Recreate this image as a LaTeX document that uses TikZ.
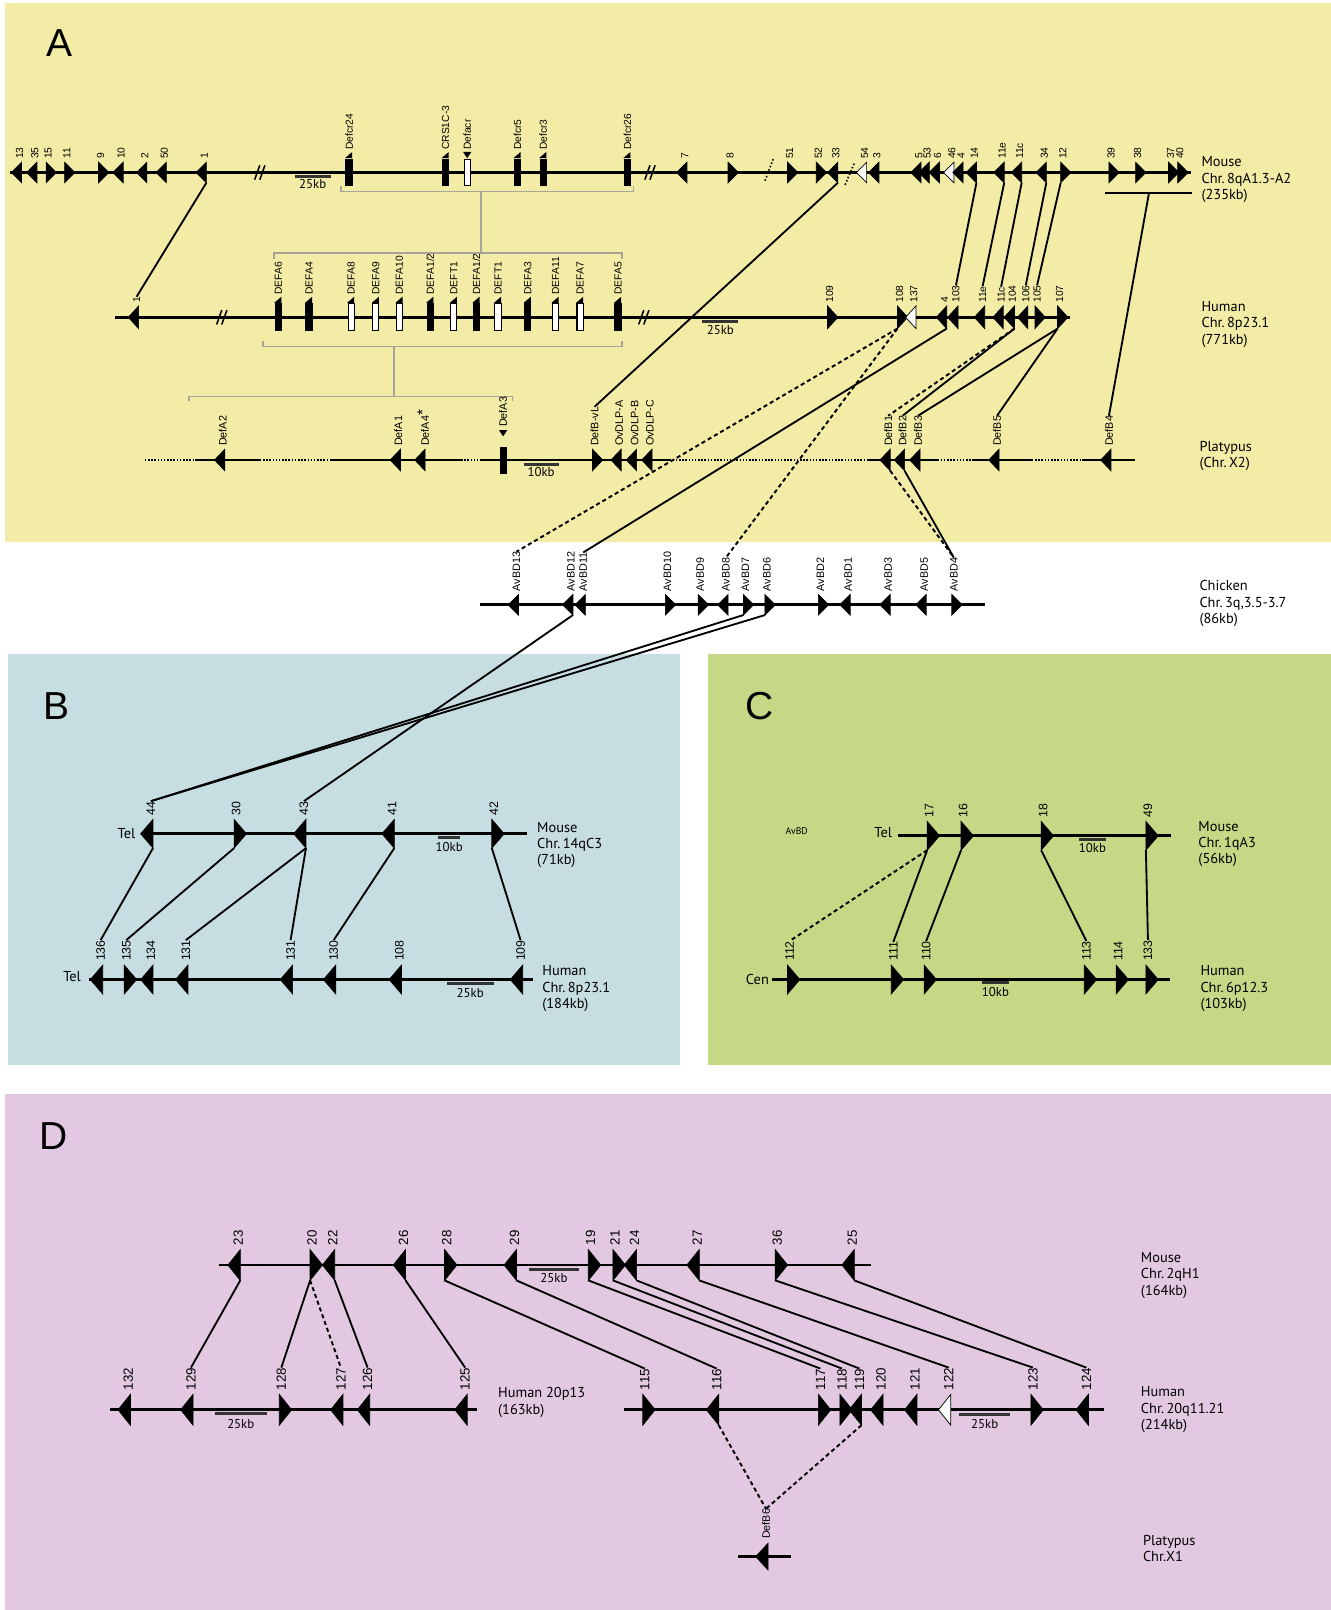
\documentclass[tikz,border=0pt]{standalone}
\usepackage{fontspec}
\setmainfont{PT Sans}
\newfontfamily\arialf{Liberation Sans}
\definecolor{panA}{RGB}{243,236,166}
\definecolor{panB}{RGB}{198,221,225}
\definecolor{panC}{RGB}{197,216,133}
\definecolor{panD}{RGB}{226,201,225}
\definecolor{brk}{RGB}{165,165,155}
\def\ghh{10}\def\gww{10}\def\ggap{3}\def\glfs{9}
\newcommand\gene[6][black]{%
  \filldraw[fill=#1,draw=black,line width=0.7pt] ({#3},{#4-\ghh}) -- ({#3},{#4+\ghh}) -- ({#3+(#5)*\gww},{#4}) -- cycle;
  \coordinate (#2t) at ({#3},{#4-\ghh});
  \coordinate (#2b) at ({#3},{#4+\ghh});
  \node[glab,anchor=west] (#2l) at ({#3+(#5)*2},{#4-\ghh-\ggap}) {#6};
}
\newcommand\gbar[7]{%
  \filldraw[fill=#1,draw=black,line width=1.1pt] ({#3-3},{#4-#5}) rectangle ({#3+3},{#4+#5});
  \coordinate (#2t) at ({#3},{#4-#5});
  \coordinate (#2b) at ({#3},{#4+#5});
  \ifx l#7
    \fill ({#3+3},{#4-#5-1}) -- ({#3+3},{#4-#5-7}) -- ({#3-4},{#4-#5-1}) -- cycle;
  \else
    \fill ({#3-4},{#4-#5-7}) -- ({#3+4},{#4-#5-7}) -- ({#3},{#4-#5-1}) -- cycle;
  \fi
  \node[glab,anchor=west] (#2l) at ({#3},{#4-#5-9}) {#6};
}
\newcommand\sbar[6]{%
  \draw[sbarline] ({#2},{#4}) -- ({#3},{#4});
  \node[kb] (#1) at ({(#2+#3)/2},{#5}) {#6};
}
\newcommand\brkmark[2]{%
  \draw[line width=1.5pt] ({#1-6},{#2+7}) -- ({#1-1},{#2-7});
  \draw[line width=1.5pt] ({#1-1},{#2+7}) -- ({#1+4},{#2-7});
}
\begin{document}
\begin{tikzpicture}[x=1pt,y=-1pt,
  chrom/.style={line width=2.6pt,black},
  chromdot/.style={line width=2pt,dash pattern=on 1.5pt off 1.6pt},
  conn/.style={line width=1.8pt},
  dconn/.style={line width=1.9pt,dash pattern=on 4pt off 3pt},
  brkline/.style={draw=brk,line width=1.6pt},
  sbarline/.style={line width=2.8pt,draw=black!80},
  glab/.style={font=\arialf\fontsize{\glfs}{\glfs}\selectfont,inner sep=0pt,rotate=90},
  splab/.style={font=\fontsize{14}{16}\selectfont,align=left,inner sep=0pt},
  kb/.style={font=\fontsize{12.5}{12.5}\selectfont,inner sep=0pt},
  plet/.style={font=\arialf\fontsize{38}{38}\selectfont,inner sep=0pt}]
\useasboundingbox (0,0) rectangle (1296,1568);
\fill[white] (0,0) rectangle (1296,1568);
\fill[panA] (5,3) rectangle (1296,528);
\fill[panB] (8,637) rectangle (662,1037);
\fill[panC] (690,637) rectangle (1296,1037);
\fill[panD] (5,1065) rectangle (1296,1568);
\node[plet] (LA) at (58,42) {A};
\node[plet] (LB) at (55,688) {B};
\node[plet] (LC) at (740,688) {C};
\node[plet] (LD) at (52,1106) {D};

% brackets
\draw[brkline] (332,181) -- (332,186.5) -- (617,186.5) -- (617,181);
\draw[brkline] (468.5,186.5) -- (468.5,246.5);
\draw[brkline] (267,252) -- (267,246.5) -- (606,246.5) -- (606,252);
\draw[brkline] (256,332.5) -- (256,337.5) -- (606,337.5) -- (606,332.5);
\draw[brkline] (384,337.5) -- (384,386);
\draw[brkline] (184,391) -- (184,386) -- (499,386) -- (499,391);

% ===== Panel A mouse
\draw[chrom] (10,168) -- (1160,168);
\brkmark{254}{168}\brkmark{634}{168}
\draw[line width=1.6pt,dash pattern=on 1.5pt off 2pt] (745,176) -- (753,155);
\draw[line width=1.6pt,dash pattern=on 1.5pt off 2pt] (823,180) -- (832,159);
\sbar{kbmA}{287}{322}{172}{179}{25kb}
\def\ghh{10}\def\gww{10}\def\ggap{3}\def\glfs{10}
\gene{mA13}{21}{168}{-1}{13}
\gene{mA35}{36}{168}{-1}{35}
\gene{mA15}{45}{168}{1}{15}
\gene{mA11}{63}{168}{1}{11}
\gene{mA9}{96}{168}{1}{9}
\gene{mA10}{120}{168}{-1}{10}
\gene{mA2}{143}{168}{-1}{2}
\gene{mA50}{162}{168}{-1}{50}
\gene{mA1}{201}{168}{-1}{1}
\gene{mA7}{669}{168}{-1}{7}
\gene{mA8}{709}{168}{1}{8}
\gene{mA51}{767}{168}{1}{51}
\gene{mA52}{795}{168}{1}{52}
\gene{mA33}{816}{168}{-1}{33}
\gene[white]{mA54}{844}{168}{-1}{54}
\gene{mA3}{856}{168}{-1}{3}
\gene{mA5}{897}{168}{-1}{5}
\gene{mA53}{905}{168}{-1}{53}
\gene{mA6}{915}{168}{-1}{6}
\gene[white]{mA46}{929}{168}{-1}{46}
\gene{mA4}{938}{168}{-1}{4}
\gene{mA14}{951}{168}{-1}{14}
\gene{mA11e}{978}{168}{-1}{11e}
\gene{mA11c}{995}{168}{-1}{11c}
\gene{mA34}{1019}{168}{-1}{34}
\gene{mA12}{1033}{168}{1}{12}
\gene{mA39}{1080}{168}{1}{39}
\gene{mA38}{1106}{168}{1}{38}
\gene{mA37}{1138}{168}{1}{37}
\gene{mA40}{1147}{168}{1}{40}
\gbar{black}{mAd24}{340}{168}{13}{Defcr24}{l}
\gbar{black}{mAcrs}{434}{168}{13}{CRS1C-3}{l}
\gbar{white}{mAacr}{455}{168}{13}{Defacr}{d}
\gbar{black}{mAd5}{504}{168}{13}{Defcr5}{l}
\gbar{black}{mAd3}{529}{168}{13}{Defcr3}{l}
\gbar{black}{mAd26}{611}{168}{13}{Defcr26}{l}
\draw[line width=2.4pt] (1076,188) -- (1161,188);
\coordinate (mAbr) at (1119,188);
\node[splab,anchor=west] (mAname) at (1170,175) {Mouse\\Chr.\,8qA1.3-A2\\(235kb)};

% ===== Panel A human
\draw[chrom] (112,309) -- (1042,309);
\brkmark{217}{309}\brkmark{628}{309}
\sbar{kbhA}{684}{719}{313}{321}{25kb}
\def\ghh{11}
\gene{hA1}{135}{309}{-1}{1}
\gene{hA109}{806}{309}{1}{109}
\gene{hA108}{874}{309}{1}{108}
\gene[white]{hA137}{892}{309}{-1}{137}
\gene{hA4}{922}{309}{-1}{4}
\gene{hA103}{933}{309}{-1}{103}
\gene{hA11e}{959}{309}{-1}{11e}
\gene{hA11c}{977}{309}{-1}{11c}
\gene{hA104}{988}{309}{-1}{104}
\gene{hA106}{1001}{309}{-1}{106}
\gene{hA105}{1008}{309}{1}{105}
\gene{hA107}{1030}{309}{1}{107}
\gbar{black}{hAa6}{271}{309}{13}{DEFA6}{l}
\gbar{black}{hAa4}{301}{309}{13}{DEFA4}{l}
\gbar{white}{hAa8}{342}{309}{13}{DEFA8}{l}
\gbar{white}{hAa9}{366}{309}{13}{DEFA9}{l}
\gbar{white}{hAa10}{389}{309}{13}{DEFA10}{l}
\gbar{black}{hAa12x}{419}{309}{13}{DEFA1/2}{l}
\gbar{white}{hAt1x}{442}{309}{13}{DEFT1}{l}
\gbar{black}{hAa12y}{464}{309}{13}{DEFA1/2}{l}
\gbar{white}{hAt1y}{485}{309}{13}{DEFT1}{l}
\gbar{black}{hAa3}{514}{309}{13}{DEFA3}{l}
\gbar{white}{hAa11}{541}{309}{13}{DEFA11}{l}
\gbar{white}{hAa7}{565}{309}{13}{DEFA7}{l}
\gbar{black}{hAa5}{602}{309}{13}{DEFA5}{l}
\node[splab,anchor=west] (hAname) at (1170,316) {Human\\Chr.\,8p23.1\\(771kb)};

% ===== Panel A platypus
\draw[chromdot] (141,448) -- (190,448);
\draw[chrom] (190,448) -- (253,448);
\draw[chromdot] (253,448) -- (322,448);
\draw[chrom] (322,448) -- (449,448);
\draw[chromdot] (449,448) -- (467,448);
\draw[chrom] (467,448) -- (652,448);
\draw[chromdot] (652,448) -- (845,448);
\draw[chrom] (845,448) -- (913,448);
\draw[chromdot] (913,448) -- (948,448);
\draw[chrom] (948,448) -- (1005,448);
\draw[chromdot] (1005,448) -- (1054,448);
\draw[chrom] (1054,448) -- (1105,448);
\sbar{kbpA}{510}{544}{452}{460}{10kb}
\def\ghh{10.5}\def\glfs{10.5}
\gene{pA2}{219}{448}{-1}{DefA2}
\gene{pA1}{390}{448}{-1}{DefA1}
\gene{pA4}{414}{448}{-1}{DefA4\raisebox{1pt}{\fontsize{15}{15}\selectfont *}}
\filldraw[line width=0.8pt] (487,436) rectangle (493,461);
\coordinate (pA3t) at (490,436);
\fill (486,419) -- (494,419) -- (490,425) -- cycle;
\node[glab,anchor=west] (pA3l) at (490,416) {DefA3};
\gene{pBvL}{577}{448}{1}{DefB-vL}
\gene{pOA}{605}{448}{-1}{OvDLP-A}
\gene{pOB}{620}{448}{-1}{OvDLP-B}
\gene{pOC}{635}{448}{-1}{OvDLP-C}
\gene{pB1}{867}{448}{-1}{DefB1}
\gene{pB2}{881}{448}{-1}{DefB2}
\gene{pB3}{896}{448}{-1}{DefB3}
\gene{pB5}{973}{448}{-1}{DefB5}
\gene{pB4}{1082}{448}{-1}{DefB4}
\node[splab,anchor=west] (pAname) at (1168,444) {Platypus\\(Chr.\,X2)};

% ===== chicken
\draw[chrom] (467,589) -- (959,589);
\def\ghh{10}
\gene{cA13}{505}{589}{-1}{AvBD13}
\gene{cA12}{558}{589}{-1}{AvBD12}
\gene{cA11}{570}{589}{-1}{AvBD11}
\gene{cA10}{648}{589}{1}{AvBD10}
\gene{cA9}{680}{589}{1}{AvBD9}
\gene{cA8}{709}{589}{-1}{AvBD8}
\gene{cA7}{724}{589}{1}{AvBD7}
\gene{cA6}{745}{589}{1}{AvBD6}
\gene{cA2}{797}{589}{1}{AvBD2}
\gene{cA1}{828}{589}{-1}{AvBD1}
\gene{cA3}{867}{589}{-1}{AvBD3}
\gene{cA5}{902}{589}{-1}{AvBD5}
\gene{cA4}{927}{589}{1}{AvBD4}
\node[splab,anchor=west] (cAname) at (1168,588) {Chicken\\Chr.\,3q,3.5-3.7\\(86kb)};

% connectors panel A
\draw[conn] (mA1b) -- (hA1l.east);
\draw[conn] (mA33b) -- (pBvLl.east);
\draw[conn] (mA14b) -- (hA103l.east);
\draw[conn] (mA11eb) -- (hA11el.east);
\draw[conn] (mA11cb) -- (hA11cl.east);
\draw[conn] (mA34b) -- (hA106l.east);
\draw[conn] (mA12b) -- (hA105l.east);
\draw[conn] (mAbr) -- (pB4l.east);
\draw[dconn] (hA108b) -- (cA13l.east);
\draw[dconn] (hA108b) -- (cA8l.east);
\draw[conn] (hA4b) -- (cA11l.east);
\draw[dconn] (hA104b) -- (pB1l.east);
\draw[conn] (hA104b) -- (pB2l.east);
\draw[conn] (hA107b) -- (pB3l.east);
\draw[conn] (hA107b) -- (pB5l.east);
\draw[dconn] (pB1b) -- (cA4l.east);
\draw[conn] (pB2b) -- (cA4l.east);

% ===== Panel B
\draw[chrom] (139,812) -- (513,812);
\def\ghh{14}\def\gww{12}\def\glfs{12}\def\ggap{4}
\gene{bM44}{149}{812}{-1}{44}
\gene{bM30}{228}{812}{1}{30}
\gene{bM43}{298}{812}{-1}{43}
\gene{bM41}{384}{812}{-1}{41}
\gene{bM42}{479}{812}{1}{42}
\sbar{kbbM}{427}{448}{816}{825}{10kb}
\node[splab,anchor=east] (bTelM) at (132,812) {Tel};
\node[splab,anchor=west] (bMname) at (523,823) {Mouse\\Chr.\,14qC3\\(71kb)};
\draw[chrom] (87,954) -- (519,954);
\gene{bH136}{100}{954}{-1}{136}
\gene{bH135}{121}{954}{1}{135}
\gene{bH134}{149}{954}{-1}{134}
\gene{bH131x}{183}{954}{-1}{131}
\gene{bH131y}{285}{954}{-1}{131}
\gene{bH130}{327}{954}{-1}{130}
\gene{bH108}{391}{954}{-1}{108}
\gene{bH109}{509}{954}{-1}{109}
\sbar{kbbH}{435}{481}{958}{967}{25kb}
\node[splab,anchor=east] (bTelH) at (79,951) {Tel};
\node[splab,anchor=west] (bHname) at (528,963) {Human\\Chr.\,8p23.1\\(184kb)};
\draw[conn] (cA12b) -- (bM43l.east);
\draw[conn] (cA7b) -- (bM44l.east);
\draw[conn] (cA6b) -- (bM44l.east);
\draw[conn] (bM44b) -- (bH136l.east);
\draw[conn] (bM30b) -- (bH135l.east);
\draw[conn] (bM43b) -- (bH131xl.east);
\draw[conn] (bM43b) -- (bH131yl.east);
\draw[conn] (bM41b) -- (bH130l.east);
\draw[conn] (bM42b) -- (bH109l.east);

% ===== Panel C
\node[font=\fontsize{9.5}{9.5}\selectfont,inner sep=0pt] (cAvBD) at (776,809) {AvBD};
\draw[chrom] (875,814) -- (1140,814);
\gene{cM17}{903}{814}{1}{17}
\gene{cM16}{936}{814}{1}{16}
\gene{cM18}{1014}{814}{1}{18}
\gene{cM49}{1116}{814}{1}{49}
\sbar{kbcM}{1051}{1077}{818}{826}{10kb}
\node[splab,anchor=east] (cTel) at (869,811) {Tel};
\node[splab,anchor=west] (cMname) at (1167,822) {Mouse\\Chr.\,1qA3\\(56kb)};
\draw[chrom] (752,954) -- (1139,954);
\gene{cH112}{767}{954}{1}{112}
\gene{cH111}{868}{954}{1}{111}
\gene{cH110}{900}{954}{1}{110}
\gene{cH113}{1056}{954}{1}{113}
\gene{cH114}{1087}{954}{1}{114}
\gene{cH133}{1116}{954}{1}{133}
\sbar{kbcH}{956}{983}{957}{966}{10kb}
\node[splab,anchor=east] (cCen) at (749,954) {Cen};
\node[splab,anchor=west] (cHname) at (1169,963) {Human\\Chr.\,6p12.3\\(103kb)};
\draw[dconn] (cM17b) -- (cH112l.east);
\draw[conn] (cM17b) -- (cH111l.east);
\draw[conn] (cM16b) -- (cH110l.east);
\draw[conn] (cM18b) -- (cH113l.east);
\draw[conn] (cM49b) -- (cH133l.east);

% ===== Panel D
\def\ghh{15}\def\glfs{13}
\draw[chrom] (213,1232) -- (848,1232);
\gene{dM23}{234}{1232}{-1}{23}
\gene{dM20}{302}{1232}{1}{20}
\gene{dM22}{326}{1232}{-1}{22}
\gene{dM26}{395}{1232}{-1}{26}
\gene{dM28}{433}{1232}{1}{28}
\gene{dM29}{503}{1232}{-1}{29}
\gene{dM19}{573}{1232}{1}{19}
\gene{dM21}{597}{1232}{1}{21}
\gene{dM24}{620}{1232}{-1}{24}
\gene{dM27}{681}{1232}{-1}{27}
\gene{dM36}{755}{1232}{1}{36}
\gene{dM25}{832}{1232}{-1}{25}
\sbar{kbdM}{515}{564}{1236}{1245}{25kb}
\node[splab,anchor=west] (dMname) at (1111,1242) {Mouse\\Chr.\,2qH1\\(164kb)};
\draw[chrom] (107,1373) -- (465,1373);
\gene{dH132}{127}{1373}{-1}{132}
\gene{dH129}{188}{1373}{-1}{129}
\gene{dH128}{272}{1373}{1}{128}
\gene{dH127}{334}{1373}{-1}{127}
\gene{dH126}{360}{1373}{-1}{126}
\gene{dH125}{455}{1373}{-1}{125}
\sbar{kbdHa}{209}{260}{1377}{1387}{25kb}
\node[splab,anchor=west] (dHaname) at (485,1366) {Human 20p13\\(163kb)};
\draw[chrom] (608,1373) -- (1075,1373);
\gene{dH115}{626}{1373}{1}{115}
\gene{dH116}{700}{1373}{-1}{116}
\gene{dH117}{797}{1373}{1}{117}
\gene{dH118}{818}{1373}{1}{118}
\gene{dH119}{839}{1373}{-1}{119}
\gene{dH120}{860}{1373}{-1}{120}
\gene{dH121}{893}{1373}{-1}{121}
\gene[white]{dH122}{926}{1373}{-1}{122}
\gene{dH123}{1004}{1373}{1}{123}
\gene{dH124}{1060}{1373}{-1}{124}
\sbar{kbdHb}{934}{984}{1378}{1387}{25kb}
\node[splab,anchor=west] (dHbname) at (1111,1373) {Human\\Chr.\,20q11.21\\(214kb)};
\draw[chrom] (719,1516) -- (770,1516);
\def\ghh{13}\def\glfs{10.5}
\gene{dP6}{748}{1516}{-1}{DefB6}
\node[splab,anchor=west] (dPname) at (1113,1508) {Platypus\\Chr.X1};
\draw[conn] (dM23b) -- (dH129l.east);
\draw[conn] (dM20b) -- (dH128l.east);
\draw[dconn] (dM20b) -- (dH127l.east);
\draw[conn] (dM22b) -- (dH126l.east);
\draw[conn] (dM26b) -- (dH125l.east);
\draw[conn] (dM28b) -- (dH115l.east);
\draw[conn] (dM29b) -- (dH116l.east);
\draw[conn] (dM19b) -- (dH117l.east);
\draw[conn] (dM21b) -- (dH118l.east);
\draw[conn] (dM24b) -- (dH119l.east);
\draw[conn] (dM27b) -- (dH122l.east);
\draw[conn] (dM36b) -- (dH123l.east);
\draw[conn] (dM25b) -- (dH124l.east);
\draw[dconn] (dH116b) -- (dP6l.east);
\draw[dconn] (dH119b) -- (dP6l.east);
\end{tikzpicture}
\end{document}
